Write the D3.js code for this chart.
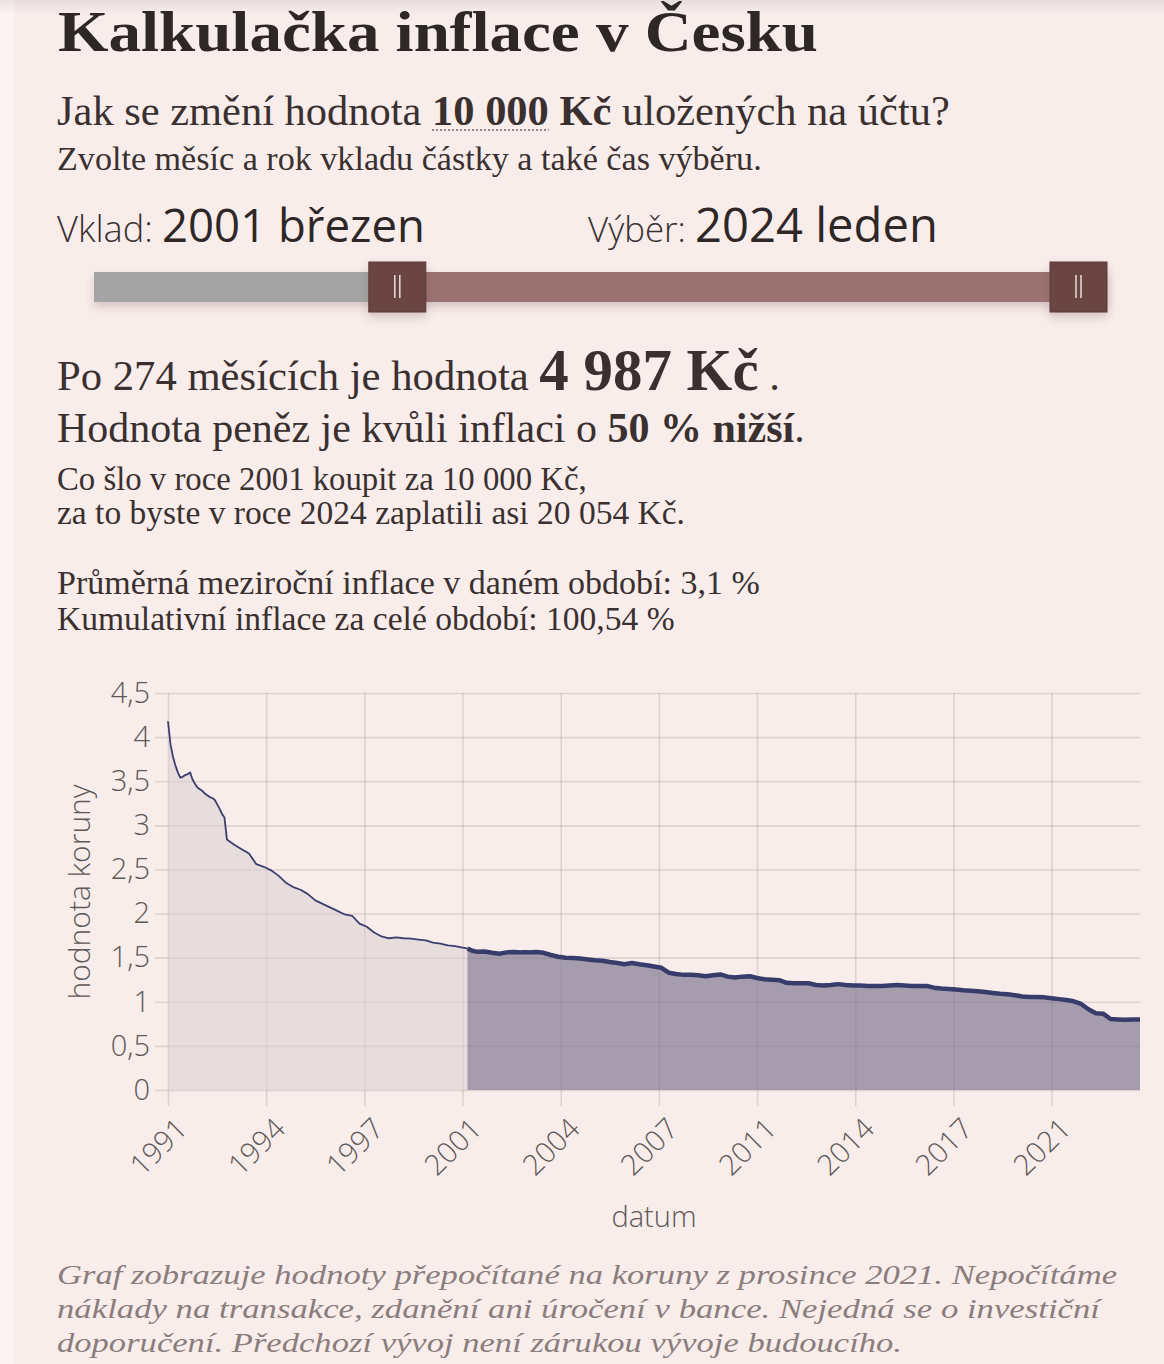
<!DOCTYPE html>
<html>
<head>
<meta charset="utf-8">
<script src="https://cdn.jsdelivr.net/npm/d3@7"></script>
<style>
  html, body { margin: 0; padding: 0; background: #fcf3f3; }
  svg { display: block; }
</style>
</head>
<body>
<svg id="chart" width="1164" height="1364"></svg>
<script>
// value of one koruna (Dec 2021 prices)
var dates = [
  "1991-01","1991-02","1991-03","1991-04","1991-05","1991-06","1991-07","1991-08","1991-09","1991-10","1991-11","1991-12",
  "1992-01","1992-02","1992-03","1992-04","1992-05","1992-06","1992-07","1992-08","1992-09","1992-10","1992-11","1992-12",
  "1993-01","1993-04","1993-07","1993-10",
  "1994-01","1994-04","1994-07","1994-10",
  "1995-01","1995-04","1995-07","1995-10",
  "1996-01","1996-04","1996-07","1996-10",
  "1997-01","1997-04","1997-07","1997-10",
  "1998-01","1998-04","1998-07","1998-10",
  "1999-01","1999-04","1999-07","1999-10",
  "2000-01","2000-04","2000-07","2000-10",
  "2001-01","2001-03","2001-05","2001-07","2001-10",
  "2002-01","2002-04","2002-07","2002-10",
  "2003-01","2003-04","2003-07","2003-10",
  "2004-01","2004-04","2004-07","2004-10",
  "2005-01","2005-04","2005-07","2005-10",
  "2006-01","2006-04","2006-07","2006-10",
  "2007-01","2007-04","2007-07","2007-10",
  "2008-01","2008-04","2008-07","2008-10",
  "2009-01","2009-04","2009-07","2009-10",
  "2010-01","2010-04","2010-07","2010-10",
  "2011-01","2011-04","2011-07","2011-10",
  "2012-01","2012-04","2012-07","2012-10",
  "2013-01","2013-04","2013-07","2013-10",
  "2014-01","2014-04","2014-07","2014-10",
  "2015-01","2015-04","2015-07","2015-10",
  "2016-01","2016-04","2016-07","2016-10",
  "2017-01","2017-04","2017-07","2017-10",
  "2018-01","2018-04","2018-07","2018-10",
  "2019-01","2019-04","2019-07","2019-10",
  "2020-01","2020-04","2020-07","2020-10",
  "2021-01","2021-04","2021-07","2021-10",
  "2022-01","2022-04","2022-07","2022-10",
  "2023-01","2023-04","2023-07","2023-10",
  "2024-01"
];
var values = [
  4.18, 3.92, 3.78, 3.68, 3.60, 3.54, 3.55, 3.57, 3.58, 3.60, 3.52, 3.47,
  3.43, 3.41, 3.39, 3.36, 3.34, 3.32, 3.31, 3.29, 3.24, 3.19, 3.13, 3.09,
  2.84, 2.78, 2.73, 2.68,
  2.56, 2.53, 2.49, 2.43,
  2.35, 2.30, 2.27, 2.22,
  2.15, 2.11, 2.07, 2.03,
  1.99, 1.975, 1.885, 1.85,
  1.785, 1.74, 1.72, 1.73,
  1.72, 1.715, 1.705, 1.695,
  1.67, 1.66, 1.64, 1.63,
  1.615, 1.605, 1.578, 1.566, 1.57,
  1.555, 1.545, 1.56, 1.565,
  1.56, 1.56, 1.565, 1.555,
  1.53, 1.51, 1.50, 1.495,
  1.49, 1.48, 1.47, 1.465,
  1.45, 1.44, 1.425, 1.44,
  1.425, 1.415, 1.40, 1.385,
  1.33, 1.315, 1.305, 1.305,
  1.30, 1.29, 1.30, 1.31,
  1.285, 1.275, 1.285, 1.29,
  1.27, 1.255, 1.25, 1.245,
  1.215, 1.21, 1.21, 1.21,
  1.19, 1.185, 1.19, 1.20,
  1.19, 1.185, 1.185, 1.18,
  1.18, 1.18, 1.185, 1.19,
  1.185, 1.18, 1.18, 1.18,
  1.16, 1.15, 1.145, 1.14,
  1.13, 1.125, 1.12, 1.11,
  1.10, 1.09, 1.085, 1.075,
  1.06, 1.055, 1.055, 1.05,
  1.04, 1.03, 1.02, 1.005,
  0.975, 0.915, 0.87, 0.865,
  0.805, 0.80, 0.795, 0.80,
  0.80
];
var firstMonth = "1991-01", lastMonth = "2024-01";
var depositMonth = "2001-03", withdrawMonth = "2024-01";
var yTicks = [0, 0.5, 1, 1.5, 2, 2.5, 3, 3.5, 4, 4.5];
var xTickMonths = ["1991-01","1994-05","1997-09","2001-01","2004-05","2007-09","2011-01","2014-05","2017-09","2021-01"];
var xTickLabels = ["1991","1994","1997","2001","2004","2007","2011","2014","2017","2021"];

var SERIF = "'Liberation Serif', 'DejaVu Serif', serif";
var SANS = "'Open Sans', 'Noto Sans', sans-serif";

function monthIndex(s) {
  return (+s.slice(0, 4) - 1991) * 12 + (+s.slice(5, 7) - 1);
}

var svg = d3.select('#chart');

// page background, light strip on the left, faint shadow at the top
svg.append('rect').attr('x', 0).attr('y', 0).attr('width', 1164).attr('height', 1364).attr('fill', '#fcf3f3');
svg.append('rect').attr('x', 14).attr('y', 0).attr('width', 1150).attr('height', 1364).attr('fill', '#f8edeb');
var defs = svg.append('defs');
var tg = defs.append('linearGradient').attr('id', 'topShade').attr('x1', 0).attr('y1', 0).attr('x2', 0).attr('y2', 1);
tg.append('stop').attr('offset', 0).attr('stop-color', '#000').attr('stop-opacity', 0.07);
tg.append('stop').attr('offset', 1).attr('stop-color', '#000').attr('stop-opacity', 0);
svg.append('rect').attr('x', 0).attr('y', 0).attr('width', 1164).attr('height', 14).attr('fill', 'url(#topShade)');

var shadow = defs.append('filter').attr('id', 'shadow').attr('x', '-20%').attr('y', '-40%').attr('width', '140%').attr('height', '200%');
shadow.append('feDropShadow').attr('dx', 0).attr('dy', 5).attr('stdDeviation', 4)
  .attr('flood-color', '#5a3a3a').attr('flood-opacity', 0.22);

// text line made of parts, scaled so it ends where the original ends
function textLine(x, y, width, parts, base) {
  var t = svg.append('text')
    .attr('x', x).attr('y', y)
    .attr('font-family', base.family)
    .attr('font-size', base.size)
    .attr('font-weight', base.weight || 400)
    .attr('font-style', base.style || 'normal')
    .attr('fill', base.color);
  parts.forEach(function(p) {
    var ts = t.append('tspan').text(p.text);
    if (p.weight) ts.attr('font-weight', p.weight);
    if (p.scale) ts.attr('font-size', p.scale + 'em');
  });
  if (width && base.squeeze) {
    // keep the font size, stretch the glyphs to the original width
    t.attr('textLength', width).attr('lengthAdjust', 'spacingAndGlyphs');
  } else if (width) {
    var w = t.node().getComputedTextLength();
    t.attr('font-size', base.size * width / w);
  }
  return t;
}

// ---- headings ----
textLine(58, 51, 760, [{ text: 'Kalkulačka inflace v Česku' }],
  { family: SERIF, size: 56, weight: 700, color: '#2f2727', squeeze: true });

var q = textLine(57, 125, 893, [
  { text: 'Jak se změní hodnota ' },
  { text: '10 000 Kč', weight: 700 },
  { text: ' uložených na účtu?' }
], { family: SERIF, size: 38, color: '#3a3030' });
// dotted underline below "10 000"
var qn = q.node();
var u0 = qn.getStartPositionOfChar(21).x, u1 = qn.getEndPositionOfChar(26).x;
svg.append('line').attr('x1', u0).attr('x2', u1).attr('y1', 130).attr('y2', 130)
  .attr('stroke', '#8f8585').attr('stroke-width', 2).attr('stroke-dasharray', '2,2');

textLine(57, 170, 705, [{ text: 'Zvolte měsíc a rok vkladu částky a také čas výběru.' }],
  { family: SERIF, size: 28, color: '#3a3030' });

textLine(57, 242, 96, [{ text: 'Vklad:' }], { family: SANS, size: 28, weight: 300, color: '#3a3030' });
textLine(162, 242, 263, [{ text: '2001 březen' }], { family: SANS, size: 44, weight: 500, color: '#2f2727' });
textLine(588, 242, 98, [{ text: 'Výběr:' }], { family: SANS, size: 28, weight: 300, color: '#3a3030' });
textLine(695, 242, 243, [{ text: '2024 leden' }], { family: SANS, size: 44, weight: 500, color: '#2f2727' });

// ---- range slider ----
var m0 = monthIndex(firstMonth), mN = monthIndex(lastMonth);
var mA = monthIndex(depositMonth), mB = monthIndex(withdrawMonth);
var sx = d3.scaleLinear().domain([m0, mN]).range([94, 1078.5]);
var handleW = 57, handleH = 50;

var slider = svg.append('g');
slider.append('rect').attr('x', sx(m0)).attr('y', 272).attr('width', sx(mN) + handleW / 2 - sx(m0)).attr('height', 30)
  .attr('fill', '#a4a4a4').attr('filter', 'url(#shadow)');
slider.append('rect').attr('x', sx(mA)).attr('y', 272).attr('width', sx(mB) - sx(mA) + handleW / 2).attr('height', 30)
  .attr('fill', '#9b7472');
[mA, mB].forEach(function(m) {
  var cx = sx(m);
  slider.append('rect').attr('x', cx - handleW / 2).attr('y', 262).attr('width', handleW).attr('height', handleH)
    .attr('fill', '#6b4443').attr('stroke', '#5c3a39').attr('stroke-width', 1).attr('filter', 'url(#shadow)');
  [-2.5, 2.5].forEach(function(dx) {
    slider.append('line').attr('x1', cx + dx).attr('x2', cx + dx).attr('y1', 275).attr('y2', 298)
      .attr('stroke', '#eadede').attr('stroke-width', 1.5);
  });
});

// ---- result texts ----
textLine(57, 390, 723, [
  { text: 'Po 274 měsících je hodnota ' },
  { text: '4 987 Kč', weight: 700, scale: 1.38 },
  { text: ' .' }
], { family: SERIF, size: 38, color: '#3a3030' });
textLine(57, 442, 748, [
  { text: 'Hodnota peněz je kvůli inflaci o ' },
  { text: '50 % nižší', weight: 700 },
  { text: '.' }
], { family: SERIF, size: 38, color: '#3a3030' });
textLine(57, 490, 530, [{ text: 'Co šlo v roce 2001 koupit za 10 000 Kč,' }],
  { family: SERIF, size: 29, color: '#3a3030' });
textLine(57, 524, 628, [{ text: 'za to byste v roce 2024 zaplatili asi 20 054 Kč.' }],
  { family: SERIF, size: 29, color: '#3a3030' });
textLine(57, 594, 703, [{ text: 'Průměrná meziroční inflace v daném období: 3,1 %' }],
  { family: SERIF, size: 29, color: '#3a3030' });
textLine(57, 630, 618, [{ text: 'Kumulativní inflace za celé období: 100,54 %' }],
  { family: SERIF, size: 29, color: '#3a3030' });

// ---- chart ----
var data = dates.map(function(d, i) { return { m: monthIndex(d), v: values[i] }; });
var before = data.filter(function(d) { return d.m <= mA; });
var inside = data.filter(function(d) { return d.m >= mA && d.m <= mB; });

var x = d3.scaleLinear().domain([m0, mN]).range([168, 1140]);
var y = d3.scaleLinear().domain([0, 4.5]).range([1090, 693]);

var gridColor = 'rgba(110, 80, 80, 0.17)';

var yAxis = svg.append('g').attr('transform', 'translate(155,0)')
  .call(d3.axisLeft(y).tickValues(yTicks).tickSize(-(1140 - 155)).tickPadding(5)
    .tickFormat(function(d) { return String(d).replace('.', ','); }));
yAxis.select('.domain').remove();
yAxis.selectAll('line').attr('stroke', gridColor).attr('stroke-width', 1.6);
yAxis.selectAll('text').attr('font-family', SANS).attr('font-weight', 300).attr('font-size', 29)
  .attr('fill', '#5e5858');

var xAxis = svg.append('g').attr('transform', 'translate(0,1106)')
  .call(d3.axisBottom(x).tickValues(xTickMonths.map(monthIndex)).tickSize(-(1106 - 693))
    .tickFormat(function(d, i) { return xTickLabels[i]; }));
xAxis.select('.domain').remove();
xAxis.selectAll('line').attr('stroke', gridColor).attr('stroke-width', 1.6);
xAxis.selectAll('text').attr('font-family', SANS).attr('font-weight', 300).attr('font-size', 29)
  .attr('fill', '#5e5858')
  .attr('text-anchor', 'end').attr('dy', null).attr('y', 0)
  .attr('transform', 'translate(3,7) rotate(-45)')
  .attr('dominant-baseline', 'hanging');

var area = d3.area().x(function(d) { return x(d.m); }).y0(y(0)).y1(function(d) { return y(d.v); });
var line = d3.line().x(function(d) { return x(d.m); }).y(function(d) { return y(d.v); });

svg.append('path').datum(before).attr('d', area).attr('fill', 'rgba(218, 208, 210, 0.55)');
svg.append('path').datum(inside).attr('d', area).attr('fill', 'rgba(125, 118, 145, 0.68)');
svg.append('path').datum(before).attr('d', line).attr('fill', 'none')
  .attr('stroke', '#3b3f6e').attr('stroke-width', 1.8).attr('stroke-linejoin', 'round');
svg.append('path').datum(inside).attr('d', line).attr('fill', 'none')
  .attr('stroke', '#383c6b').attr('stroke-width', 4.5).attr('stroke-linejoin', 'round');

// axis titles
svg.append('text').attr('x', 654).attr('y', 1227).attr('text-anchor', 'middle')
  .attr('font-family', SANS).attr('font-weight', 300).attr('font-size', 29).attr('fill', '#5e5858')
  .text('datum');
svg.append('text').attr('transform', 'translate(90,892) rotate(-90)').attr('text-anchor', 'middle')
  .attr('font-family', SANS).attr('font-weight', 300).attr('font-size', 30).attr('fill', '#5e5858')
  .text('hodnota koruny');

// ---- footnote ----
var note = { family: SERIF, size: 27, style: 'italic', color: '#8b7d7d', squeeze: true };
textLine(57, 1284, 1060, [{ text: 'Graf zobrazuje hodnoty přepočítané na koruny z prosince 2021. Nepočítáme' }], note);
textLine(57, 1318, 1043, [{ text: 'náklady na transakce, zdanění ani úročení v bance. Nejedná se o investiční' }], note);
textLine(57, 1352, 845, [{ text: 'doporučení. Předchozí vývoj není zárukou vývoje budoucího.' }], note);
</script>
</body>
</html>
